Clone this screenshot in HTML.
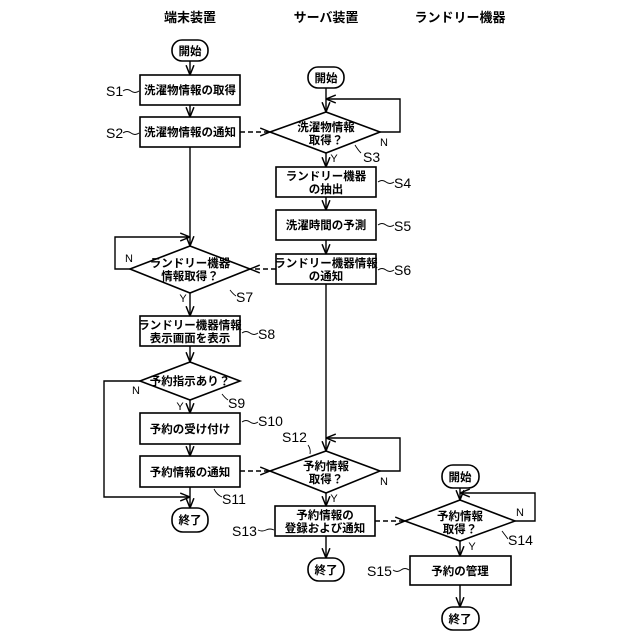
<!DOCTYPE html>
<html><head><meta charset="utf-8"><style>body{margin:0;background:#fff}svg{display:block}</style></head><body>
<svg width="640" height="640" viewBox="0 0 640 640" xmlns="http://www.w3.org/2000/svg" font-family="'Liberation Sans','Noto Sans CJK JP',sans-serif">
<defs><marker id="a" viewBox="0 0 10 10" refX="10" refY="5" markerWidth="7" markerHeight="7" orient="auto"><path d="M0,1 L10,5 L0,9" fill="none" stroke="#000" stroke-width="1.5"/></marker></defs>
<g font-size="13" font-weight="bold" text-anchor="middle" fill="#000">
<text x="190" y="22">端末装置</text><text x="326" y="22">サーバ装置</text><text x="460" y="22">ランドリー機器</text></g>
<g fill="none" stroke="#000" stroke-width="1.6">
<rect x="172" y="40" width="36" height="21" rx="10"/>
<rect x="140" y="75" width="100" height="30"/>
<rect x="140" y="117" width="100" height="30"/>
<polygon points="130,269 190,246 250,269 190,293"/>
<rect x="140" y="316" width="100" height="30"/>
<polygon points="140,381 190,362 240,381 190,400"/>
<rect x="140" y="413" width="100" height="31"/>
<rect x="140" y="456" width="100" height="31"/>
<rect x="172" y="508" width="36" height="24" rx="11"/>
<rect x="308" y="67" width="36" height="21" rx="10"/>
<polygon points="270,132 326,112 380,132 326,153"/>
<rect x="276" y="167" width="100" height="30"/>
<rect x="276" y="210" width="100" height="30"/>
<rect x="276" y="254" width="100" height="30"/>
<polygon points="270,471 326,451 380,471 326,493"/>
<rect x="275" y="506" width="100" height="30"/>
<rect x="308" y="558" width="36" height="23" rx="11"/>
<rect x="442" y="465" width="37" height="23" rx="11"/>
<polygon points="405,521 460,500 515,521 460,541"/>
<rect x="410" y="556" width="101" height="29"/>
<rect x="442" y="607" width="37" height="23" rx="11"/>
</g>
<g fill="none" stroke="#000" stroke-width="1.4" marker-end="url(#a)">
<line x1="190" y1="61" x2="190" y2="75"/>
<line x1="190" y1="105" x2="190" y2="117"/>
<line x1="190" y1="147" x2="190" y2="246"/>
<polyline points="130,269 115,269 115,237 190,237"/>
<line x1="190" y1="293" x2="190" y2="316"/>
<line x1="190" y1="346" x2="190" y2="362"/>
<line x1="190" y1="400" x2="190" y2="413"/>
<line x1="190" y1="444" x2="190" y2="456"/>
<line x1="190" y1="487" x2="190" y2="508"/>
<polyline points="140,381 104,381 104,497 190,497"/>
<line x1="326" y1="88" x2="326" y2="112"/>
<polyline points="380,132 400,132 400,99 326,99"/>
<line x1="326" y1="153" x2="326" y2="167"/>
<line x1="326" y1="197" x2="326" y2="210"/>
<line x1="326" y1="240" x2="326" y2="254"/>
<line x1="326" y1="284" x2="326" y2="451"/>
<polyline points="380,471 400,471 400,438 326,438"/>
<line x1="326" y1="493" x2="326" y2="506"/>
<line x1="326" y1="536" x2="326" y2="558"/>
<line x1="460" y1="488" x2="460" y2="500"/>
<polyline points="515,521 535,521 535,493 460,493"/>
<line x1="460" y1="541" x2="460" y2="556"/>
<line x1="460" y1="585" x2="460" y2="607"/>
<g stroke-dasharray="5,3">
<line x1="240" y1="132" x2="270" y2="132"/>
<line x1="276" y1="269" x2="250" y2="269"/>
<line x1="240" y1="471" x2="270" y2="471"/>
<line x1="375" y1="521" x2="405" y2="521"/>
</g></g>
<g font-size="11.5" font-weight="bold" text-anchor="middle" fill="#000">
<text x="190" y="55">開始</text>
<text x="190" y="94">洗濯物情報の取得</text>
<text x="190" y="136">洗濯物情報の通知</text>
<text x="190" y="267">ランドリー機器</text><text x="190" y="280">情報取得？</text>
<text x="190" y="329">ランドリー機器情報</text><text x="190" y="342">表示画面を表示</text>
<text x="190" y="385">予約指示あり？</text>
<text x="190" y="433">予約の受け付け</text>
<text x="190" y="476">予約情報の通知</text>
<text x="190" y="524">終了</text>
<text x="326" y="82">開始</text>
<text x="326" y="131">洗濯物情報</text><text x="326" y="144">取得？</text>
<text x="326" y="180">ランドリー機器</text><text x="326" y="193">の抽出</text>
<text x="326" y="229">洗濯時間の予測</text>
<text x="326" y="267">ランドリー機器情報</text><text x="326" y="280">の通知</text>
<text x="326" y="470">予約情報</text><text x="326" y="483">取得？</text>
<text x="325" y="519">予約情報の</text><text x="325" y="532">登録および通知</text>
<text x="326" y="574">終了</text>
<text x="460" y="481">開始</text>
<text x="460" y="520">予約情報</text><text x="460" y="533">取得？</text>
<text x="460" y="575">予約の管理</text>
<text x="460" y="623">終了</text>
</g>
<g font-size="11" text-anchor="middle" fill="#000">
<text x="183" y="302">Y</text><text x="129" y="262">N</text>
<text x="334" y="162">Y</text><text x="384" y="146">N</text>
<text x="180" y="410">Y</text><text x="136" y="394">N</text>
<text x="334" y="502">Y</text><text x="384" y="485">N</text>
<text x="472" y="550">Y</text><text x="520" y="516">N</text>
</g>
<g font-size="14" fill="#000">
<text x="106" y="96">S1</text><text x="106" y="138">S2</text>
<text x="363" y="162">S3</text><text x="394" y="188">S4</text><text x="394" y="231">S5</text><text x="394" y="275">S6</text>
<text x="236" y="302">S7</text><text x="258" y="339">S8</text><text x="228" y="408">S9</text>
<text x="258" y="426">S10</text><text x="282" y="442">S12</text><text x="222" y="504">S11</text>
<text x="232" y="536">S13</text><text x="508" y="545">S14</text><text x="367" y="576">S15</text>
</g>
<g fill="none" stroke="#000" stroke-width="0.9">
<path d="M123,91 q4,-3 8,0 t8,0"/><path d="M123,133 q4,-3 8,0 t8,0"/>
<path d="M355,145 q3,5 6,8"/><path d="M378,182 q4,-3 8,0 t8,0"/><path d="M378,225 q4,-3 8,0 t8,0"/><path d="M378,270 q4,-3 8,0 t8,0"/>
<path d="M230,290 q3,4 6,6"/><path d="M242,333 q4,-3 8,0 t8,0"/><path d="M222,394 q3,4 6,6"/>
<path d="M242,422 q4,-3 8,0 t8,0"/><path d="M308,445 q3,4 2,9"/><path d="M214,489 q3,6 8,8"/>
<path d="M258,530 q4,2 8,0 t8,0"/><path d="M502,531 q3,4 6,8"/><path d="M393,570 q4,3 8,0 t8,0"/>
</g>
</svg>
</body></html>
